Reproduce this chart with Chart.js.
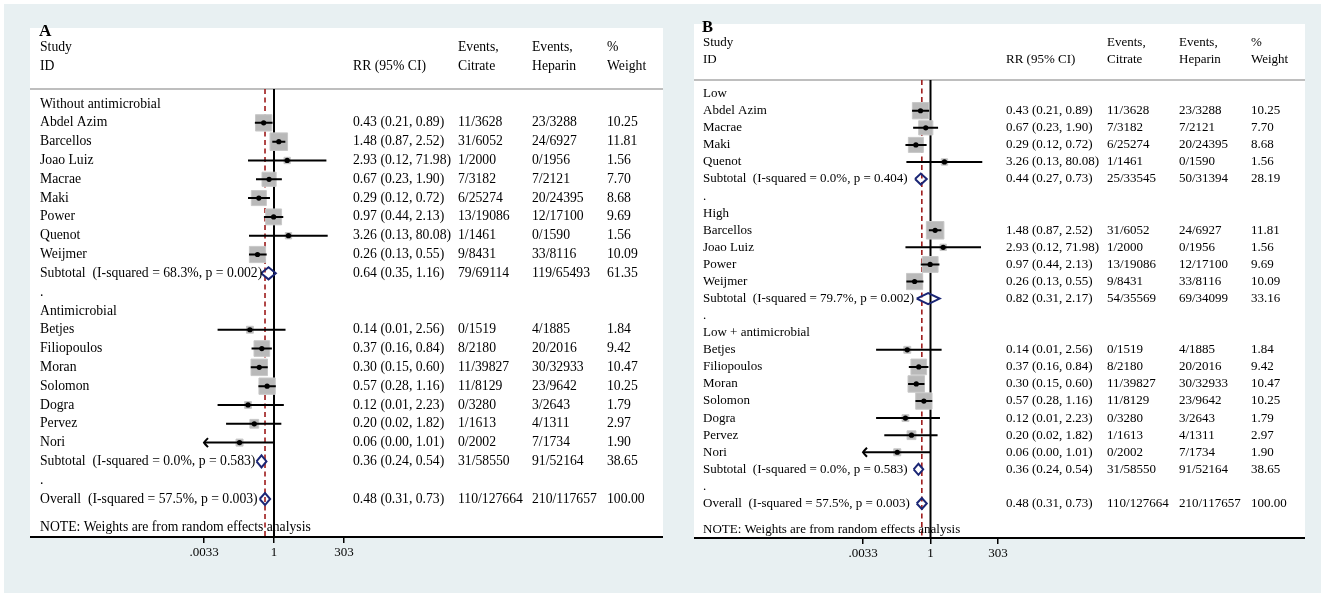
<!DOCTYPE html>
<html>
<head>
<meta charset="utf-8">
<script src="https://cdn.jsdelivr.net/npm/chart.js@4.4.1/dist/chart.umd.min.js"></script>
<style>
  html, body { margin: 0; padding: 0; background: #ffffff; }
  #outer { position: absolute; left: 4px; top: 4px; width: 1317px; height: 589px; background: #e8f0f2; }
  canvas { position: absolute; left: 0; top: 0; }
</style>
</head>
<body>
<div id="outer"></div>
<canvas id="chartA" width="1325" height="598"></canvas>
<canvas id="chartB" width="1325" height="598"></canvas>
<script>
// ---------- shared axis ----------
const xTicks = [0.0033, 1, 303];
const xTickLabels = [".0033", "1", "303"];
const overallRR = 0.48;

// ---------- Panel A ----------
const aLabels = ["Without antimicrobial", "Abdel Azim", "Barcellos", "Joao Luiz", "Macrae", "Maki", "Power", "Quenot", "Weijmer",
  "Subtotal  (I-squared = 68.3%, p = 0.002)", ".", "Antimicrobial", "Betjes", "Filiopoulos", "Moran", "Solomon", "Dogra", "Pervez", "Nori",
  "Subtotal  (I-squared = 0.0%, p = 0.583)", ".", "Overall  (I-squared = 57.5%, p = 0.003)"];
const aKind = ["g","s","s","s","s","s","s","s","s","d","b","g","s","s","s","s","s","s","s","d","b","d"];
const aRR  = [null,0.43,1.48,2.93,0.67,0.29,0.97,3.26,0.26,0.64,null,null,0.14,0.37,0.30,0.57,0.12,0.20,0.06,0.36,null,0.48];
const aLo  = [null,0.21,0.87,0.12,0.23,0.12,0.44,0.13,0.13,0.35,null,null,0.01,0.16,0.15,0.28,0.01,0.02,0.00,0.24,null,0.31];
const aHi  = [null,0.89,2.52,71.98,1.90,0.72,2.13,80.08,0.55,1.16,null,null,2.56,0.84,0.60,1.16,2.23,1.82,1.01,0.54,null,0.73];
const aCit = ["","11/3628","31/6052","1/2000","7/3182","6/25274","13/19086","1/1461","9/8431","79/69114","","","0/1519","8/2180","11/39827","11/8129","0/3280","1/1613","0/2002","31/58550","","110/127664"];
const aHep = ["","23/3288","24/6927","0/1956","7/2121","20/24395","12/17100","0/1590","33/8116","119/65493","","","4/1885","20/2016","30/32933","23/9642","3/2643","4/1311","7/1734","91/52164","","210/117657"];
const aWt  = [null,10.25,11.81,1.56,7.70,8.68,9.69,1.56,10.09,61.35,null,null,1.84,9.42,10.47,10.25,1.79,2.97,1.90,38.65,null,100.00];

// ---------- Panel B ----------
const bLabels = ["Low", "Abdel Azim", "Macrae", "Maki", "Quenot", "Subtotal  (I-squared = 0.0%, p = 0.404)", ".",
  "High", "Barcellos", "Joao Luiz", "Power", "Weijmer", "Subtotal  (I-squared = 79.7%, p = 0.002)", ".",
  "Low + antimicrobial", "Betjes", "Filiopoulos", "Moran", "Solomon", "Dogra", "Pervez", "Nori",
  "Subtotal  (I-squared = 0.0%, p = 0.583)", ".", "Overall  (I-squared = 57.5%, p = 0.003)"];
const bKind = ["g","s","s","s","s","d","b","g","s","s","s","s","d","b","g","s","s","s","s","s","s","s","d","b","d"];
const bRR  = [null,0.43,0.67,0.29,3.26,0.44,null,null,1.48,2.93,0.97,0.26,0.82,null,null,0.14,0.37,0.30,0.57,0.12,0.20,0.06,0.36,null,0.48];
const bLo  = [null,0.21,0.23,0.12,0.13,0.27,null,null,0.87,0.12,0.44,0.13,0.31,null,null,0.01,0.16,0.15,0.28,0.01,0.02,0.00,0.24,null,0.31];
const bHi  = [null,0.89,1.90,0.72,80.08,0.73,null,null,2.52,71.98,2.13,0.55,2.17,null,null,2.56,0.84,0.60,1.16,2.23,1.82,1.01,0.54,null,0.73];
const bCit = ["","11/3628","7/3182","6/25274","1/1461","25/33545","","","31/6052","1/2000","13/19086","9/8431","54/35569","","","0/1519","8/2180","11/39827","11/8129","0/3280","1/1613","0/2002","31/58550","","110/127664"];
const bHep = ["","23/3288","7/2121","20/24395","0/1590","50/31394","","","24/6927","0/1956","12/17100","33/8116","69/34099","","","4/1885","20/2016","30/32933","23/9642","3/2643","4/1311","7/1734","91/52164","","210/117657"];
const bWt  = [null,10.25,7.70,8.68,1.56,28.19,null,null,11.81,1.56,9.69,10.09,33.16,null,null,1.84,9.42,10.47,10.25,1.79,2.97,1.90,38.65,null,100.00];

const FONT = "'Liberation Serif', 'Times New Roman', serif";
const CANVAS_W = 1325, CANVAS_H = 598, AXIS_H = 30;

function buildPanel(canvasId, d, lay) {
  const n = d.labels.length;
  const xMin = xTicks[0], xMax = xTicks[xTicks.length - 1];
  const yMin = -0.8, yMax = n + 1.02;
  const squares = [], dots = [], ciLine = [], diamonds = [];
  const arrows = [];
  for (let i = 0; i < n; i++) {
    if (d.kind[i] === 's') {
      squares.push({x: d.rr[i], y: i, w: d.wt[i]});
      dots.push({x: d.rr[i], y: i});
      let lo = d.lo[i], hi = d.hi[i];
      if (lo < xMin) { arrows.push({x: xMin, y: i, dir: -1}); lo = xMin; }
      if (hi > xMax) { arrows.push({x: xMax, y: i, dir: 1}); hi = xMax; }
      ciLine.push({x: lo, y: i}, {x: hi, y: i}, {x: hi, y: null});
    } else if (d.kind[i] === 'd') {
      const h = 0.32;
      diamonds.push({x: d.lo[i], y: i}, {x: d.rr[i], y: i - h}, {x: d.hi[i], y: i},
                    {x: d.rr[i], y: i + h}, {x: d.lo[i], y: i}, {x: d.lo[i], y: null});
    }
  }

  const textPlugin = {
    id: 'forestText',
    beforeDraw(chart) {
      const c = chart.ctx;
      c.save();
      c.fillStyle = '#ffffff';
      c.fillRect(lay.pl, lay.pt, lay.pr - lay.pl, lay.axisY - lay.pt);
      c.strokeStyle = '#a8a8a8';
      c.lineWidth = 1.5;
      c.beginPath(); c.moveTo(lay.pl, lay.hdrY); c.lineTo(lay.pr, lay.hdrY); c.stroke();
      c.restore();
    },
    afterDraw(chart) {
      const c = chart.ctx;
      const ys = chart.scales.y, xs = chart.scales.x;
      c.save();
      c.strokeStyle = '#000'; c.lineWidth = 2;
      arrows.forEach(a => {
        const px = xs.getPixelForValue(a.x), py = ys.getPixelForValue(a.y);
        c.beginPath();
        c.moveTo(px - a.dir * 4, py - 4.5);
        c.quadraticCurveTo(px - a.dir * 1, py - 1.5, px, py);
        c.quadraticCurveTo(px - a.dir * 1, py + 1.5, px - a.dir * 4, py + 4.5);
        c.stroke();
      });
      c.fillStyle = '#000';
      c.textBaseline = 'middle';
      c.font = lay.fs + 'px ' + FONT;
      const row = v => ys.getPixelForValue(v);
      c.fillText('Study', lay.cStudy, row(-3));
      c.fillText('ID', lay.cStudy, row(-2));
      c.fillText('RR (95% CI)', lay.cRR, row(-2));
      c.fillText('Events,', lay.cCit, row(-3));
      c.fillText('Citrate', lay.cCit, row(-2));
      c.fillText('Events,', lay.cHep, row(-3));
      c.fillText('Heparin', lay.cHep, row(-2));
      c.fillText('%', lay.cWt, row(-3));
      c.fillText('Weight', lay.cWt, row(-2));
      for (let i = 0; i < n; i++) {
        const y = row(i);
        c.fillText(d.labels[i], lay.cStudy, y);
        if (d.rr[i] !== null) {
          c.fillText(d.rr[i].toFixed(2) + ' (' + d.lo[i].toFixed(2) + ', ' + d.hi[i].toFixed(2) + ')', lay.cRR, y);
          c.fillText(d.cit[i], lay.cCit, y);
          c.fillText(d.hep[i], lay.cHep, y);
          c.fillText(d.wt[i].toFixed(2), lay.cWt, y);
        }
      }
      c.fillText('NOTE: Weights are from random effects analysis', lay.cStudy, row(n - 1 + 1.5));
      c.font = 'bold ' + (lay.fs + 3.5) + 'px ' + FONT;
      c.fillText(lay.letter, lay.cStudy - 1, row(-3.85));
      c.strokeStyle = '#000'; c.lineWidth = 2;
      c.beginPath(); c.moveTo(lay.pl, lay.axisY); c.lineTo(lay.pr, lay.axisY); c.stroke();
      c.restore();
    }
  };

  return new Chart(document.getElementById(canvasId), {
    type: 'scatter',
    data: {
      datasets: [
        { type: 'scatter', label: 'point', data: dots, pointStyle: 'circle', pointRadius: 2.6,
          backgroundColor: '#000', borderColor: '#000', borderWidth: 0, order: 1 },
        { type: 'line', label: 'pooled', data: diamonds, showLine: true, spanGaps: false, pointRadius: 0,
          borderColor: '#1b2675', borderWidth: 2, fill: false, tension: 0, order: 2 },
        { type: 'line', label: 'ci', data: ciLine, showLine: true, spanGaps: false, pointRadius: 0,
          borderColor: '#000', borderWidth: 2, fill: false, tension: 0, order: 3 },
        { type: 'scatter', label: 'weight', data: squares, pointStyle: 'rect',
          pointRadius: ctx => { const r = ctx.raw; return r ? 5.1 * Math.sqrt(r.w) / Math.SQRT2 : 0; },
          backgroundColor: '#b9b9b9', borderColor: '#c8c8c8', borderWidth: 1, order: 4 },
        { type: 'line', label: 'null', data: [{x: 1, y: yMin}, {x: 1, y: yMax}], showLine: true, pointRadius: 0,
          borderColor: '#000', borderWidth: 2, order: 5 },
        { type: 'line', label: 'overall', data: [{x: overallRR, y: yMin}, {x: overallRR, y: yMax}], showLine: true, pointRadius: 0,
          borderColor: '#9e1b1b', borderWidth: 1.6, borderDash: [5, 3.5], order: 6 }
      ]
    },
    options: {
      responsive: false,
      animation: false,
      events: [],
      layout: { padding: { left: lay.xl, right: CANVAS_W - lay.xr, top: lay.hdrY, bottom: CANVAS_H - lay.axisY - AXIS_H } },
      plugins: { legend: { display: false }, tooltip: { enabled: false } },
      scales: {
        x: {
          type: 'logarithmic', min: xMin, max: xMax, position: 'bottom',
          afterBuildTicks: s => { s.ticks = xTicks.map(v => ({ value: v })); },
          afterFit: s => { s.height = AXIS_H; },
          ticks: { callback: (v, i) => xTickLabels[i], color: '#000', font: { family: FONT, size: 13 },
                   padding: 2, maxRotation: 0, autoSkip: false },
          grid: { drawOnChartArea: false, drawTicks: true, tickLength: 6, color: '#000', lineWidth: 1.5 },
          border: { display: false }
        },
        y: { type: 'linear', reverse: true, min: yMin, max: yMax, display: false }
      }
    },
    plugins: [textPlugin]
  });
}

buildPanel('chartA',
  { labels: aLabels, kind: aKind, rr: aRR, lo: aLo, hi: aHi, cit: aCit, hep: aHep, wt: aWt },
  { pl: 30, pr: 663, pt: 28, hdrY: 89, axisY: 537, xl: 204, xr: 344, fs: 13.7,
    cStudy: 40, cRR: 353, cCit: 458, cHep: 532, cWt: 607, letter: 'A' });

buildPanel('chartB',
  { labels: bLabels, kind: bKind, rr: bRR, lo: bLo, hi: bHi, cit: bCit, hep: bHep, wt: bWt },
  { pl: 694, pr: 1305, pt: 24, hdrY: 80, axisY: 538, xl: 863, xr: 998, fs: 13,
    cStudy: 703, cRR: 1006, cCit: 1107, cHep: 1179, cWt: 1251, letter: 'B' });
</script>
</body>
</html>
